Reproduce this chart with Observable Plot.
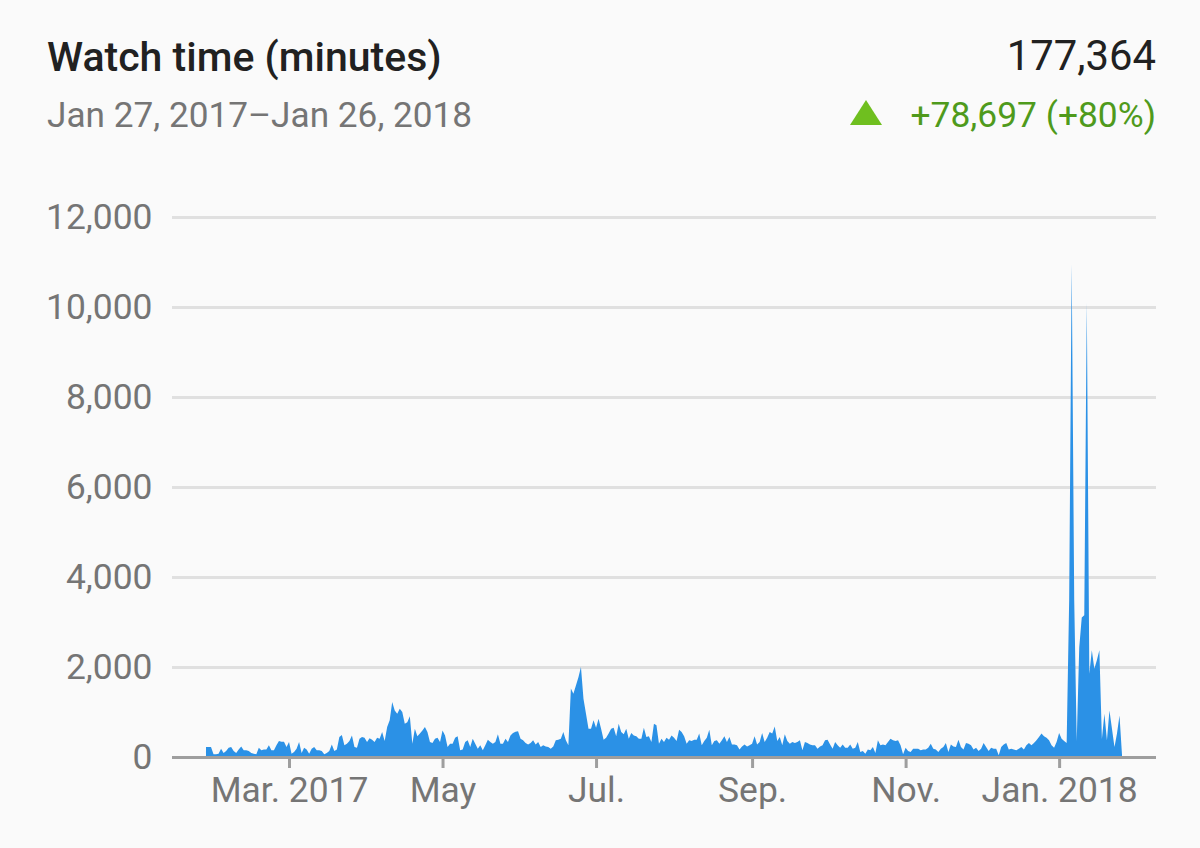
<!DOCTYPE html>
<html>
<head>
<meta charset="utf-8">
<script src="https://cdn.jsdelivr.net/npm/d3@7"></script>
<script src="https://cdn.jsdelivr.net/npm/@observablehq/plot@0.6"></script>
<style>
  html, body { margin: 0; padding: 0; background: #fafafa; width: 1200px; height: 848px; overflow: hidden; font-family: Roboto, sans-serif; }
  #head { position: relative; width: 1200px; height: 170px; }
  #head div { position: absolute; white-space: nowrap; line-height: 1; }
  #title { left: 47px; top: 37px; font-size: 41px; font-weight: 500; color: #212121; }
  #range { left: 47px; top: 98px; font-size: 35.2px; color: #757575; }
  #total { right: 44px; top: 35px; font-size: 41.8px; color: #212121; }
  #delta { right: 44px; top: 98px; font-size: 35.4px; color: #4f9a1c; }
  #arrow { left: 850px; top: 100px; width: 32px; height: 25px; background: #6fbf1f; clip-path: polygon(50% 0, 100% 100%, 0 100%); }
  svg { display: block; }
</style>
</head>
<body>
<div id="head">
  <div id="title"></div>
  <div id="range"></div>
  <div id="total"></div>
  <div id="arrow"></div>
  <div id="delta"></div>
</div>
<div id="chart"></div>
<script>
const titleText = "Watch time (minutes)";
const rangeText = "Jan 27, 2017–Jan 26, 2018";
const totalText = "177,364";
const deltaText = "+78,697 (+80%)";

const firstDay = "2017-01-27";
const yTicks = [0, 2000, 4000, 6000, 8000, 10000, 12000];
const xTickDates = ["2017-03-01", "2017-05-01", "2017-07-01", "2017-09-01", "2017-11-01", "2018-01-01"];
const xTickLabels = ["Mar. 2017", "May", "Jul.", "Sep.", "Nov.", "Jan. 2018"];

// daily watch minutes, one value per day
const minutesA = [220,220,220,60,60,75,185,90,135,205,220,135,90,165,235,150,150,135,90,75,60,205,150,165,165,260,150,150,260,355,340,340,220,335,75,110,185,335,90,205,165,75,185,220,150,150,135,60,90,135];
const minutesB = [280,135,165,445,490,260,295,355,480,220,205,405,445,430,335,415,385,335,430,405,555,355,665,815,1220,1035,960,1075,1000,740,775,905,295,630,460,520,590,665,555,335,310,405,430,335,590,480,220,295,295,430,460];
const minutesC = [150,165,335,370,220,405,295,185,260,150,260,385,335,295,335,505,295,295,405,335,480,535,560,575,405,370,310,280,310,370,280,335,220,260,235,220,185,235,370,385,405,555,370,260,1520,1405,1590,1775,2000,1295,960,630];
const minutesD = [630,815,650,850,630,385,430,520,630,650,460,740,555,505,630,405,535,480,460,405,405,650,445,460,335,740,705,295,405,335,430,385,480,430,355,605,555,460,295,370,355,385,385,520,260,355,430,605,260,355,370,295];
const minutesE = [370,460,335,445,280,280,260,165,235,280,235,260,295,460,280,335,535,335,430,555,520,680,355,445,260,505,355,295,335,310,335,370,150,335,310,280,260,260,185,235,260,370,385,280,185,335,260,205,280,205,205,280];
const minutesF = [185,205,335,110,135,75,165,150,220,90,370,260,280,260,335,405,370,355,370,260,60,205,135,110,185,185,185,150,165,165,205,295,185,165,110,185,220,310,110,280,235,220,385,220,165,310,295,260,165,205,135];
const minutesG = [185,310,220,135,205,185,185,40,220,280,310,165,185,165,150,185,220,165,260,310,260,310,370,445,520,460,430,370,260,205,335,535,405,355,310];
const minutesH = [3500,10950,3500,350,2440,3100,3150,10100,1850,2370,1960,2150,2370,400,960,370,1035,630,220,520,925,40];

const minutes = [...minutesA, ...minutesB, ...minutesC, ...minutesD, ...minutesE, ...minutesF, ...minutesG, ...minutesH];
const start = new Date(firstDay + "T00:00:00Z");
const DAY = 86400000;
const rows = minutes.map((v, i) => ({date: new Date(+start + i * DAY), value: v}));
const tickDates = xTickDates.map(d => new Date(d + "T00:00:00Z"));
const labelFor = new Map(tickDates.map((d, i) => [+d, xTickLabels[i]]));

document.getElementById("title").textContent = titleText;
document.getElementById("range").textContent = rangeText;
document.getElementById("total").textContent = totalText;
document.getElementById("delta").textContent = deltaText;

const plot = Plot.plot({
  width: 1200,
  height: 678,
  marginTop: 47,
  marginBottom: 91,
  marginLeft: 172,
  marginRight: 44,
  style: {background: "transparent", fontFamily: "Roboto, sans-serif"},
  x: {type: "utc", domain: [new Date(+start - 13.5 * DAY), new Date(+start + 377.5 * DAY)]},
  y: {domain: [0, 12000]},
  marks: [
    Plot.ruleY(yTicks.filter(d => d > 0), {stroke: "#e0e0e0", strokeWidth: 3}),
    Plot.areaY(rows, {x: "date", y: "value", fill: "#2b91e6", curve: "linear"}),
    Plot.ruleY([0], {stroke: "#9e9e9e", strokeWidth: 3}),
    Plot.axisY({ticks: yTicks, tickSize: 0, tickPadding: 20, tickFormat: d3.format(","), fontSize: 35.4, color: "#757575", label: null}),
    Plot.axisX({ticks: tickDates, tickSize: 11, tickPadding: 8, tickFormat: d => labelFor.get(+d), fontSize: 35.4, color: "#757575", stroke: "#9e9e9e", strokeWidth: 3, label: null})
  ]
});
document.getElementById("chart").appendChild(plot);
</script>
</body>
</html>
